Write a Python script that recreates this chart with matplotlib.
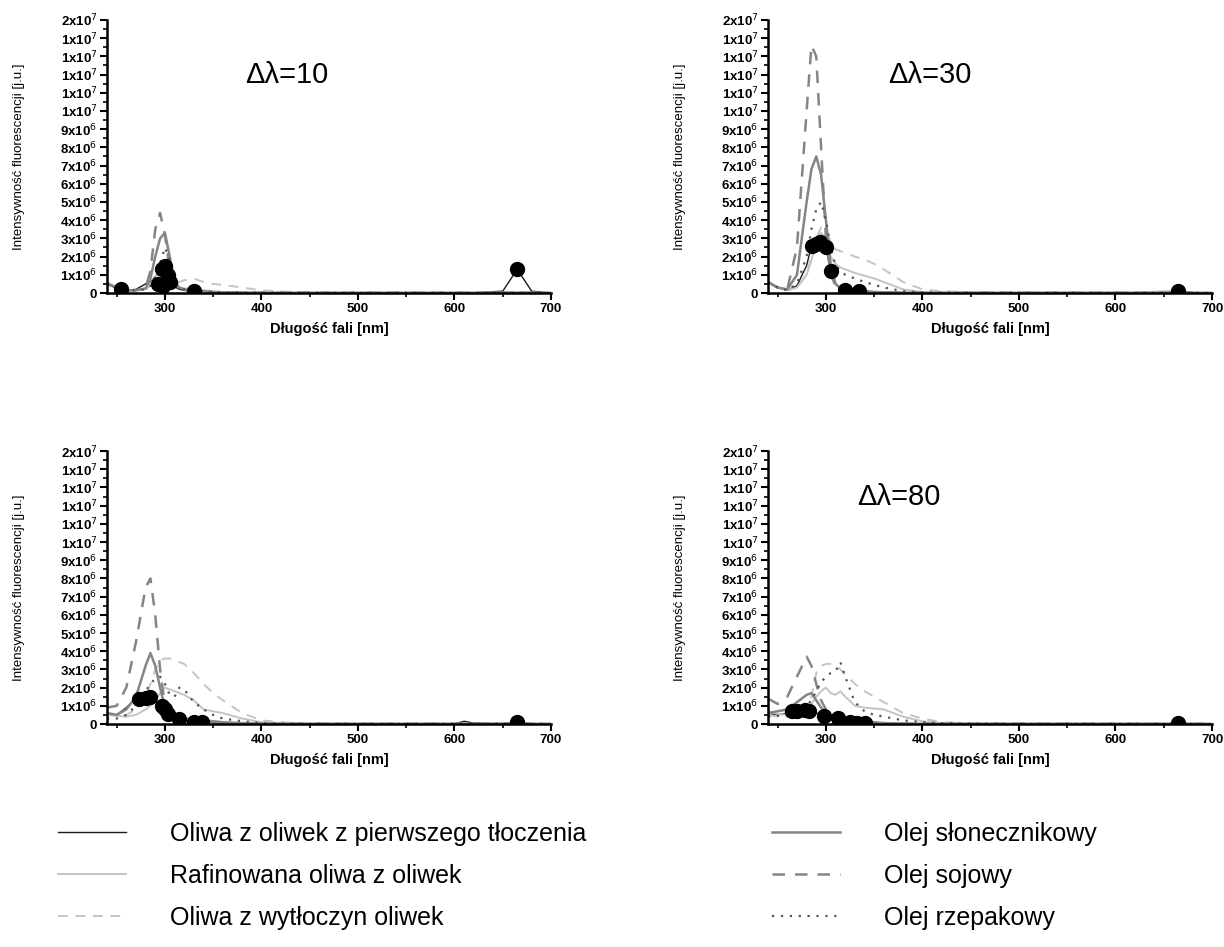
import numpy as np
import matplotlib
matplotlib.use("Agg")
import matplotlib.pyplot as plt
from matplotlib.ticker import MultipleLocator, FuncFormatter
from matplotlib.lines import Line2D

plt.rcParams["font.family"] = ["Liberation Sans", "DejaVu Sans"]

# wavelength grid [nm], shared by every series
wl = [240, 250, 260, 270, 280, 285, 290, 295, 300, 305, 310, 315, 320, 330, 340,
      350, 360, 380, 400, 420, 450, 500, 600, 610, 620, 650, 665, 680, 700]

names = ["Oliwa z oliwek z pierwszego tłoczenia", "Rafinowana oliwa z oliwek",
         "Oliwa z wytłoczyn oliwek", "Olej słonecznikowy", "Olej sojowy", "Olej rzepakowy"]

# intensities in units of 1e6
# --- delta lambda = 10
d10_virgin = [0.5, 0.25, 0.15, 0.2, 0.5, 0.6, 0.9, 1.3, 1.5, 0.9, 0.35, 0.2, 0.15, 0.15, 0.1,
              0.05, 0.03, 0.02, 0.02, 0.01, 0.01, 0.01, 0.01, 0.01, 0.01, 0.1, 1.3, 0.1, 0.0]
d10_refined = [0.6, 0.3, 0.15, 0.15, 0.25, 0.5, 0.9, 1.3, 1.4, 1.0, 0.5, 0.3, 0.25, 0.25, 0.15,
               0.1, 0.06, 0.03, 0.02, 0.01, 0.01, 0.01, 0.01, 0.01, 0.01, 0.01, 0.05, 0.02, 0.0]
d10_pomace = [0.5, 0.3, 0.15, 0.15, 0.2, 0.4, 0.8, 1.2, 1.3, 1.0, 0.6, 0.6, 0.7, 0.8, 0.6,
              0.5, 0.45, 0.3, 0.15, 0.08, 0.03, 0.01, 0.01, 0.01, 0.01, 0.01, 0.01, 0.01, 0.0]
d10_sunflower = [0.5, 0.3, 0.15, 0.15, 0.25, 0.8, 2.0, 3.0, 3.3, 2.0, 0.6, 0.3, 0.2, 0.15, 0.1,
                 0.05, 0.03, 0.02, 0.01, 0.01, 0.01, 0.01, 0.01, 0.01, 0.01, 0.01, 0.01, 0.01, 0.0]
d10_soy = [0.5, 0.3, 0.15, 0.15, 0.3, 1.2, 3.5, 4.4, 3.2, 1.3, 0.4, 0.2, 0.15, 0.1, 0.05,
           0.04, 0.03, 0.02, 0.01, 0.01, 0.01, 0.01, 0.01, 0.01, 0.01, 0.01, 0.01, 0.01, 0.0]
d10_rapeseed = [0.5, 0.3, 0.15, 0.15, 0.2, 0.4, 0.9, 1.6, 2.5, 1.8, 0.7, 0.3, 0.2, 0.15, 0.1,
                0.05, 0.03, 0.02, 0.01, 0.01, 0.01, 0.01, 0.01, 0.01, 0.01, 0.01, 0.01, 0.01, 0.0]
d10_dots_x = [255, 293, 297, 300, 303, 305, 298, 330, 665]
d10_dots_y = [0.2, 0.5, 1.3, 1.5, 1.0, 0.6, 0.4, 0.1, 1.3]

# --- delta lambda = 30
d30_virgin = [0.6, 0.3, 0.15, 0.4, 1.5, 2.6, 2.7, 2.8, 2.5, 1.2, 0.5, 0.25, 0.15, 0.1, 0.08,
              0.05, 0.03, 0.02, 0.01, 0.01, 0.01, 0.01, 0.01, 0.01, 0.01, 0.02, 0.1, 0.02, 0.0]
d30_refined = [0.6, 0.3, 0.15, 0.3, 1.0, 1.8, 2.8, 3.3, 3.0, 2.0, 1.6, 1.4, 1.3, 1.1, 0.95,
               0.8, 0.6, 0.2, 0.05, 0.02, 0.01, 0.01, 0.01, 0.01, 0.01, 0.1, 0.1, 0.02, 0.0]
d30_pomace = [0.6, 0.3, 0.15, 0.3, 1.0, 2.0, 3.0, 3.6, 3.5, 2.8, 2.4, 2.3, 2.2, 2.0, 1.85,
              1.6, 1.3, 0.6, 0.2, 0.1, 0.05, 0.02, 0.01, 0.01, 0.01, 0.01, 0.01, 0.01, 0.0]
d30_sunflower = [0.6, 0.3, 0.2, 1.0, 5.0, 6.8, 7.5, 6.5, 4.0, 1.5, 0.5, 0.25, 0.2, 0.15, 0.1,
                 0.05, 0.04, 0.02, 0.01, 0.01, 0.01, 0.01, 0.01, 0.01, 0.01, 0.01, 0.01, 0.01, 0.0]
d30_soy = [0.6, 0.3, 0.2, 2.5, 10.0, 13.6, 13.0, 8.0, 3.0, 1.0, 0.4, 0.25, 0.2, 0.15, 0.1,
           0.05, 0.04, 0.02, 0.01, 0.01, 0.01, 0.01, 0.01, 0.01, 0.01, 0.01, 0.01, 0.01, 0.0]
d30_rapeseed = [0.6, 0.3, 0.15, 0.5, 2.0, 3.5, 4.6, 5.0, 4.0, 2.5, 1.5, 1.2, 1.0, 0.8, 0.6,
                0.45, 0.3, 0.1, 0.03, 0.01, 0.01, 0.01, 0.01, 0.01, 0.01, 0.01, 0.01, 0.01, 0.0]
d30_dots_x = [286, 290, 294, 300, 305, 320, 334, 665]
d30_dots_y = [2.6, 2.7, 2.8, 2.5, 1.2, 0.15, 0.1, 0.1]

# --- third panel (no label)
d60_virgin = [0.6, 0.5, 0.9, 1.4, 1.5, 1.5, 1.3, 1.0, 0.7, 0.5, 0.35, 0.3, 0.25, 0.15, 0.1,
              0.08, 0.05, 0.03, 0.02, 0.01, 0.01, 0.01, 0.01, 0.15, 0.05, 0.02, 0.1, 0.02, 0.0]
d60_refined = [0.5, 0.45, 0.4, 0.5, 0.8, 1.0, 1.3, 1.7, 2.0, 1.9, 1.8, 1.7, 1.6, 1.3, 0.8,
               0.7, 0.6, 0.3, 0.1, 0.05, 0.02, 0.01, 0.01, 0.01, 0.01, 0.01, 0.01, 0.01, 0.0]
d60_pomace = [0.6, 0.5, 0.5, 0.8, 1.5, 2.2, 3.0, 3.5, 3.6, 3.6, 3.5, 3.4, 3.3, 2.8, 2.2,
              1.7, 1.3, 0.6, 0.2, 0.1, 0.03, 0.01, 0.01, 0.01, 0.01, 0.01, 0.01, 0.01, 0.0]
d60_sunflower = [0.6, 0.5, 0.8, 1.5, 3.2, 3.9, 3.2, 2.0, 0.9, 0.5, 0.35, 0.3, 0.3, 0.25, 0.2,
                 0.15, 0.1, 0.05, 0.02, 0.01, 0.01, 0.01, 0.01, 0.01, 0.01, 0.01, 0.01, 0.01, 0.0]
d60_soy = [0.9, 1.0, 2.0, 4.5, 7.5, 8.0, 6.0, 3.0, 1.0, 0.5, 0.3, 0.3, 0.3, 0.2, 0.15,
           0.1, 0.05, 0.03, 0.02, 0.01, 0.01, 0.01, 0.01, 0.01, 0.01, 0.01, 0.01, 0.01, 0.0]
d60_rapeseed = [0.3, 0.3, 0.5, 1.0, 1.8, 2.2, 2.5, 2.6, 2.2, 1.6, 1.5, 2.0, 1.9, 1.2, 0.8,
                0.5, 0.3, 0.15, 0.05, 0.02, 0.01, 0.01, 0.01, 0.01, 0.01, 0.01, 0.01, 0.01, 0.0]
d60_dots_x = [273, 280, 285, 297, 300, 303, 315, 330, 338, 665]
d60_dots_y = [1.4, 1.45, 1.5, 1.0, 0.8, 0.55, 0.3, 0.1, 0.1, 0.1]

# --- delta lambda = 80
d80_virgin = [0.6, 0.5, 0.6, 0.7, 0.75, 0.7, 0.6, 0.5, 0.45, 0.4, 0.35, 0.35, 0.2, 0.1, 0.05,
              0.05, 0.03, 0.02, 0.01, 0.01, 0.01, 0.01, 0.01, 0.01, 0.01, 0.01, 0.05, 0.01, 0.0]
d80_refined = [0.7, 0.55, 0.5, 0.7, 0.9, 1.1, 1.5, 1.8, 2.0, 1.7, 1.6, 1.8, 1.5, 1.0, 0.9,
               0.85, 0.8, 0.4, 0.15, 0.05, 0.02, 0.01, 0.01, 0.01, 0.01, 0.01, 0.01, 0.01, 0.0]
d80_pomace = [0.5, 0.4, 0.4, 0.5, 0.8, 1.5, 2.8, 3.2, 3.3, 3.3, 3.2, 3.0, 2.7, 2.2, 1.8,
              1.5, 1.2, 0.6, 0.3, 0.1, 0.03, 0.01, 0.01, 0.01, 0.01, 0.01, 0.01, 0.01, 0.0]
d80_sunflower = [0.6, 0.7, 0.8, 1.2, 1.6, 1.7, 1.3, 0.9, 0.6, 0.4, 0.3, 0.3, 0.3, 0.2, 0.15,
                 0.1, 0.05, 0.03, 0.01, 0.01, 0.01, 0.01, 0.01, 0.01, 0.01, 0.01, 0.01, 0.01, 0.0]
d80_soy = [1.4, 1.1, 1.5, 2.6, 3.7, 3.2, 2.2, 1.3, 0.8, 0.7, 0.7, 0.5, 0.3, 0.2, 0.1,
           0.05, 0.03, 0.02, 0.01, 0.01, 0.01, 0.01, 0.01, 0.01, 0.01, 0.01, 0.01, 0.01, 0.0]
d80_rapeseed = [0.4, 0.45, 0.5, 0.7, 1.0, 1.3, 1.8, 2.3, 2.6, 2.8, 2.9, 3.4, 2.6, 1.2, 0.7,
                0.5, 0.4, 0.2, 0.1, 0.05, 0.02, 0.01, 0.01, 0.01, 0.01, 0.01, 0.01, 0.01, 0.0]
d80_dots_x = [265, 270, 278, 282, 298, 313, 325, 332, 340, 665]
d80_dots_y = [0.7, 0.7, 0.75, 0.7, 0.45, 0.35, 0.1, 0.05, 0.05, 0.05]

panels = [
    ("Δλ=10", (d10_virgin, d10_refined, d10_pomace, d10_sunflower, d10_soy, d10_rapeseed),
     d10_dots_x, d10_dots_y),
    ("Δλ=30", (d30_virgin, d30_refined, d30_pomace, d30_sunflower, d30_soy, d30_rapeseed),
     d30_dots_x, d30_dots_y),
    (None, (d60_virgin, d60_refined, d60_pomace, d60_sunflower, d60_soy, d60_rapeseed),
     d60_dots_x, d60_dots_y),
    ("Δλ=80", (d80_virgin, d80_refined, d80_pomace, d80_sunflower, d80_soy, d80_rapeseed),
     d80_dots_x, d80_dots_y),
]

# line styles: color, linestyle, width
styles = [
    ("#1a1a1a", "-", 1.0),
    ("#c4c4c4", "-", 1.4),
    ("#c4c4c4", (0, (5, 4)), 1.4),
    ("#858585", "-", 1.8),
    ("#858585", (0, (5, 4)), 1.8),
    ("#555555", (0, (1, 3)), 1.6),
]

# axes rectangles in figure fraction (left, bottom, width, height)
W, H = 1224, 947
rects = [
    (107 / W, 1 - 293 / H, 444 / W, 273 / H),
    (768 / W, 1 - 293 / H, 444 / W, 273 / H),
    (107 / W, 1 - 724 / H, 444 / W, 273 / H),
    (768 / W, 1 - 724 / H, 444 / W, 273 / H),
]
title_pos = [(0.31, 0.80), (0.27, 0.80), None, (0.20, 0.83)]


def sci_fmt(v, pos):
    if v <= 0:
        return "0"
    e = int(np.floor(np.log10(v) + 1e-9))
    m = int(round(v / 10 ** e))
    return r"%dx10$^{%d}$" % (m, e)


fig = plt.figure(figsize=(12.24, 9.47), dpi=100)
x = np.array(wl)

for (title, series, dx, dy), rect, tpos in zip(panels, rects, title_pos):
    ax = fig.add_axes(rect)
    for vals, (c, ls, lw) in zip(series, styles):
        ax.plot(x, np.array(vals) * 1e6, color=c, linestyle=ls, linewidth=lw)
    ax.plot(dx, np.array(dy) * 1e6, linestyle="none", marker="o", markersize=10,
            color="black")

    ax.set_xlim(240, 700)
    ax.set_ylim(0, 1.5e7)
    ax.xaxis.set_major_locator(MultipleLocator(100))
    ax.xaxis.set_minor_locator(MultipleLocator(50))
    ax.yaxis.set_major_locator(MultipleLocator(1e6))
    ax.yaxis.set_minor_locator(MultipleLocator(5e5))
    ax.yaxis.set_major_formatter(FuncFormatter(sci_fmt))
    ax.xaxis.set_major_formatter(FuncFormatter(lambda v, p: "" if v < 300 else "%d" % v))

    for side in ("top", "right"):
        ax.spines[side].set_visible(False)
    for side in ("left", "bottom"):
        ax.spines[side].set_linewidth(1.8)
    ax.tick_params(which="major", direction="out", length=5, width=1.5,
                   labelsize=9.5, pad=2)
    ax.tick_params(which="minor", direction="out", length=3, width=1.2)
    for lab in ax.get_xticklabels() + ax.get_yticklabels():
        lab.set_fontweight("bold")

    ax.set_xlabel("Długość fali [nm]", fontsize=10.5, fontweight="bold")
    ax.xaxis.set_label_coords(0.5, -29 / 273)
    ax.set_ylabel("Intensywność fluorescencji [j.u.]", fontsize=9.5)
    ax.yaxis.set_label_coords(-(107 - 25) / 444, 0.5)

    if title:
        ax.text(tpos[0], tpos[1], title, transform=ax.transAxes, fontsize=21,
                ha="left", va="center")

handles = [Line2D([], [], color=c, linestyle=ls, linewidth=lw) for c, ls, lw in styles]
leg_kw = dict(frameon=False, fontsize=18, handlelength=2.7, handletextpad=1.8,
              labelspacing=0.72, borderpad=0, borderaxespad=0, loc="upper left")
fig.legend(handles[:3], names[:3], bbox_to_anchor=(58 / W, 1 - 822 / H), **leg_kw)
fig.legend(handles[3:], names[3:], bbox_to_anchor=(772 / W, 1 - 822 / H), **leg_kw)

fig.savefig("out.png", dpi=100)
